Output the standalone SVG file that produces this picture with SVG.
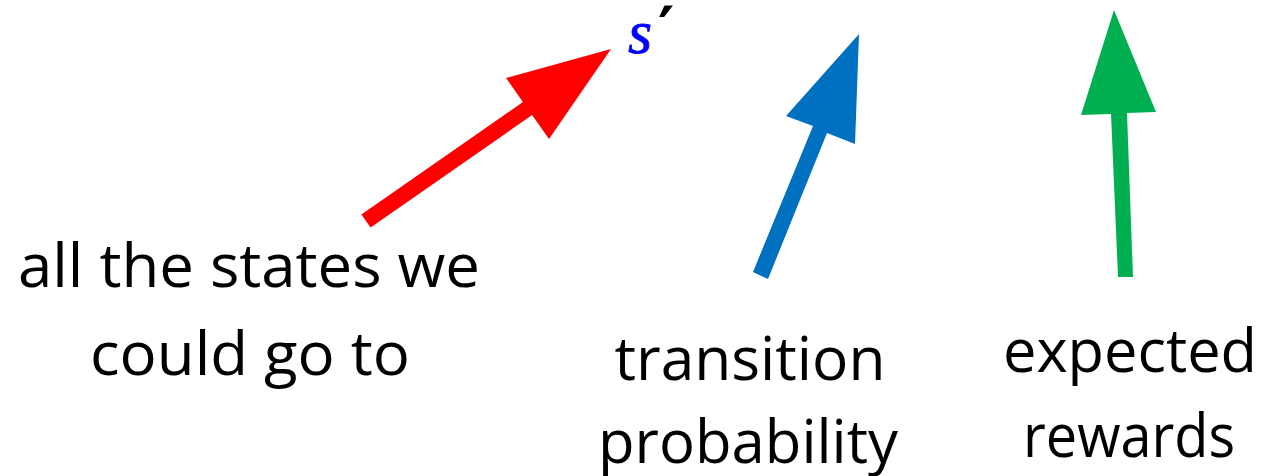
<svg xmlns="http://www.w3.org/2000/svg" width="1271" height="476" viewBox="0 0 1271 476">
<style>
.lbl{font-family:"Open Sans","Liberation Sans",sans-serif;font-size:60px;fill:#000;text-anchor:middle}
.math{font-family:"Liberation Serif","DejaVu Serif",serif;font-style:italic}
</style>
<rect width="1271" height="476" fill="#fff"/>
<g id="connectors">
<polygon fill="#FF0000" points="361.4,214.5 522.9,102 506,78 611,49 549,139 532.1,115 370.6,227.5"/>
<polygon fill="#0070C0" points="753,272 813,126 786,116 859,34 855,144 827,133 768,279"/>
<polygon fill="#00B050" points="1118,277 1111,114 1081,115 1114,10 1156,112 1127,113 1133,277"/>
</g>
<g id="node-sprime">
<text class="math" x="628" y="53" font-size="62" fill="#0000FF" stroke="#0000FF" stroke-width="0.8">s</text>
<text x="658" y="51" font-family="DejaVu Serif,serif" font-weight="bold" font-size="62" fill="#000">′</text>
</g>
<g id="node-states">
<text class="lbl" x="249" y="287" textLength="462" lengthAdjust="spacingAndGlyphs">all the states we</text>
<text class="lbl" x="250" y="375" textLength="320" lengthAdjust="spacingAndGlyphs">could go to</text>
</g>
<g id="node-transition">
<text class="lbl" x="750" y="380" textLength="271" lengthAdjust="spacingAndGlyphs">transition</text>
<text class="lbl" x="748" y="463" textLength="300" lengthAdjust="spacingAndGlyphs">probability</text>
</g>
<g id="node-rewards">
<text class="lbl" x="1130" y="372" textLength="254" lengthAdjust="spacingAndGlyphs">expected</text>
<text class="lbl" x="1129" y="457" textLength="212" lengthAdjust="spacingAndGlyphs">rewards</text>
</g>
</svg>
